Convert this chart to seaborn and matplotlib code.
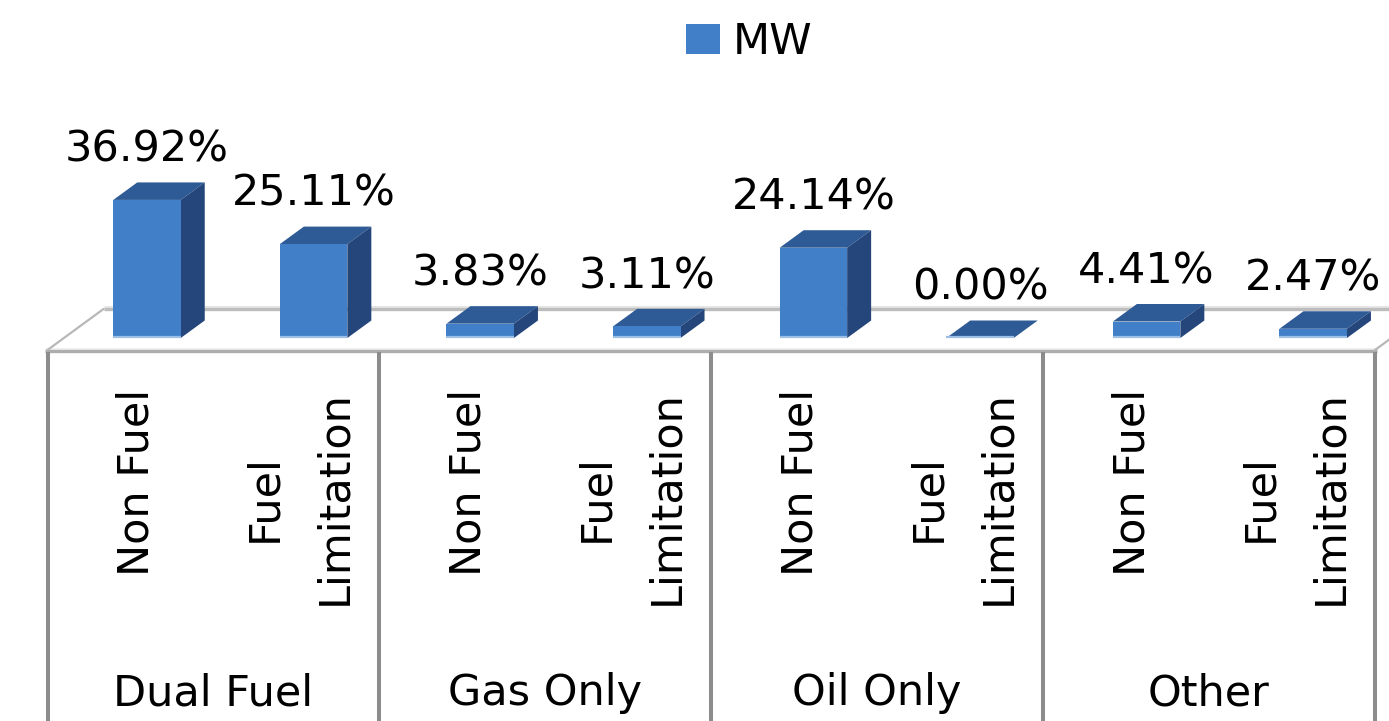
import numpy as np
import pandas as pd
import matplotlib
matplotlib.use("Agg")
import matplotlib.pyplot as plt
import seaborn as sns
from matplotlib.patches import Polygon, Rectangle, Patch

# ---------------- data ----------------
groups = ["Dual Fuel", "Gas Only", "Oil Only", "Other"]
subcats = ["Non Fuel", "Fuel\nLimitation"]
mw_pct = [36.92, 25.11, 3.83, 3.11, 24.14, 0.00, 4.41, 2.47]
series_name = "MW"

# ---------------- style ----------------
FRONT = "#4180C8"
TOP = "#2E5B96"
SIDE = "#25467A"
EDGE_LIGHT = "#9DBFE6"
FS = 31

W, H, DPI = 1389, 721, 100
sns.set_theme(style="white")
plt.rcParams['font.family'] = ['DejaVu Sans']
plt.rcParams['text.color'] = 'black'

df = pd.DataFrame({
    "key": [f"{g}|{s}" for g in groups for s in subcats],
    "value": mw_pct,
})

fig = plt.figure(figsize=(W / DPI, H / DPI), dpi=DPI)

# decoration axes in pixel coordinates (behind the bars)
deco = fig.add_axes([0, 0, 1, 1], zorder=0)
deco.set_xlim(0, W)
deco.set_ylim(H, 0)
deco.axis("off")

# bar axes
ax = fig.add_axes([0, 0, 1, 1], zorder=1)
ax.set_facecolor("none")
sns.barplot(data=df, x="key", y="value", color=FRONT, saturation=1,
            width=0.405, errorbar=None, ax=ax, linewidth=0)

X0PX, XSTEP = 147.0, 166.6     # pixel centre of first bar, bar pitch
Y0PX, YSCALE = 338.0, 3.74     # pixel of bar base, px per percent
ax.set_xlim((0 - X0PX) / XSTEP, (W - X0PX) / XSTEP)
ax.set_ylim((Y0PX - H) / YSCALE, Y0PX / YSCALE)
ax.axis("off")

DX = 24.0 / XSTEP
DY = 17.5 / YSCALE

for p, v in zip(ax.patches, mw_pct):
    x0, w, h = p.get_x(), p.get_width(), p.get_height()
    top = Polygon([(x0, h), (x0 + w, h), (x0 + w + DX, h + DY), (x0 + DX, h + DY)],
                  closed=True, fc=TOP, ec="none", zorder=p.get_zorder() - 0.1)
    side = Polygon([(x0 + w, 0), (x0 + w, h), (x0 + w + DX, h + DY), (x0 + w + DX, DY)],
                   closed=True, fc=SIDE, ec="none", zorder=p.get_zorder() - 0.1)
    ax.add_patch(top)
    ax.add_patch(side)
    ax.plot([x0, x0 + w], [0.3, 0.3], color=EDGE_LIGHT, lw=1.6,
            solid_capstyle="butt", zorder=p.get_zorder() + 0.1)
    ax.text(x0 + w / 2, h + 10.2, f"{v:.2f}%", ha="center", va="baseline",
            fontsize=FS, color="black")

# ---------------- floor & category axis (pixel coords) ----------------
BACK_Y, FRONT_Y = 309.0, 351.0
LEFT_X, RIGHT_X = 47.5, 1375.0
DEPTH_DX = 56.0
deco.plot([LEFT_X + DEPTH_DX, W], [BACK_Y - 2.5, BACK_Y - 2.5], color="#e6e6e6", lw=2.2, solid_capstyle="butt")
deco.plot([LEFT_X + DEPTH_DX, W], [BACK_Y, BACK_Y], color="#bdbdbd", lw=2.4, solid_capstyle="butt")
deco.plot([LEFT_X - 3, RIGHT_X + 2], [FRONT_Y - 2.5, FRONT_Y - 2.5], color="#f0f0f0", lw=2.2, solid_capstyle="butt")
deco.plot([LEFT_X - 3, RIGHT_X + 2], [FRONT_Y, FRONT_Y], color="#adadad", lw=2.4, solid_capstyle="butt")
deco.plot([LEFT_X, LEFT_X + DEPTH_DX], [FRONT_Y - 1, BACK_Y], color="#b8b8b8", lw=1.6)
deco.plot([RIGHT_X, RIGHT_X + DEPTH_DX], [FRONT_Y - 1, BACK_Y], color="#b8b8b8", lw=1.6)

n_slots = len(mw_pct)
slot_w = (RIGHT_X - LEFT_X) / n_slots
sep_x = [LEFT_X + 2 * slot_w * k for k in range(len(groups) + 1)]
for sx in sep_x:
    deco.plot([sx, sx], [FRONT_Y + 1, H], color="#8c8c8c", lw=2.9, solid_capstyle="butt")

for gi, g in enumerate(groups):
    gc = (sep_x[gi] + sep_x[gi + 1]) / 2
    deco.text(gc, 705, g, ha="center", va="baseline", fontsize=FS, color="black")
    for si, s in enumerate(subcats):
        i = 2 * gi + si
        two_line = "\n" in s
        cx = LEFT_X + slot_w * (i + 0.5) + (3 if two_line else 6)
        cy = 498 if two_line else 482
        deco.text(cx, cy, s, ha="center", va="center", rotation=90,
                  multialignment="center", linespacing=1.84, fontsize=FS, color="black")

# ---------------- legend ----------------
fig.legend(handles=[Patch(facecolor=FRONT, edgecolor="none", label=series_name)],
           loc="center", bbox_to_anchor=(749 / W, 1 - 42 / H), frameon=False,
           fontsize=FS, handlelength=0.8, handleheight=0.72, handletextpad=0.3,
           borderpad=0, labelcolor="black")

fig.savefig("out.png", dpi=DPI)
